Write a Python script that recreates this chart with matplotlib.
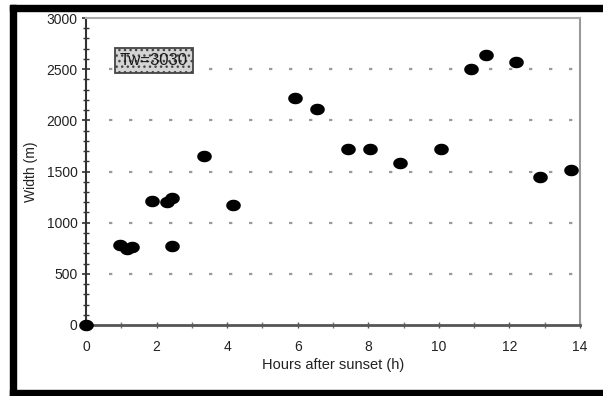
import matplotlib
matplotlib.use("Agg")
import matplotlib.pyplot as plt
from matplotlib.patches import Rectangle
from matplotlib.path import Path
from matplotlib.ticker import MultipleLocator
import numpy as np

hours = [0.0, 0.95, 1.15, 1.3, 1.87, 2.3, 2.45, 2.43, 3.34, 4.17, 5.92, 6.54,
         7.42, 8.05, 8.9, 10.06, 10.9, 11.33, 12.18, 12.86, 13.74]
width = [0, 785, 740, 765, 1210, 1205, 1245, 775, 1651, 1175, 2220, 2110,
         1715, 1715, 1585, 1715, 2500, 2640, 2570, 1450, 1510]
xticks = [0, 2, 4, 6, 8, 10, 12, 14]
yticks = [0, 500, 1000, 1500, 2000, 2500, 3000]
grid_levels = [500, 1000, 1500, 2000, 2500]
label_text = "Tw=3030"

plt.rcParams['font.family'] = ['Liberation Sans', 'DejaVu Sans']
plt.rcParams['hatch.color'] = '#8a8a8a'

fig = plt.figure(figsize=(6.03, 3.96), dpi=100)
W, H = 603, 396
ax = fig.add_axes([86 / W, 1 - 325 / H, (580 - 86) / W, (325 - 18) / H])

for g in grid_levels:
    ax.plot([0.65, 13.8], [g, g], color='#9a9a9a', lw=1.6,
            linestyle=(0, (1.5, 7.5)), zorder=1)

t = np.linspace(0, 2 * np.pi, 40)
ellipse = Path(np.column_stack([1.3 * np.cos(t), np.sin(t)]), closed=True)
ax.plot(hours, width, linestyle='none', marker=ellipse, color='black', ms=9.5,
        zorder=3, clip_on=False)

ax.set_xlim(0, 14)
ax.set_ylim(0, 3000)
ax.set_xticks(xticks)
ax.set_yticks(yticks)
ax.xaxis.set_minor_locator(MultipleLocator(1))
ax.yaxis.set_minor_locator(MultipleLocator(100))
ax.tick_params(axis='y', which='major', direction='inout', length=6, width=1.2,
               colors='#333333', labelsize=10, pad=3)
ax.tick_params(axis='y', which='minor', direction='inout', length=4, width=1, colors='#333333')
ax.tick_params(axis='x', which='major', direction='inout', length=5, width=1,
               colors='#555555', labelsize=10, pad=8)
ax.tick_params(axis='x', which='minor', direction='inout', length=4, width=1, colors='#777777')
for lab in ax.get_xticklabels() + ax.get_yticklabels():
    lab.set_color('#222222')

ax.spines['left'].set_color('#333333')
ax.spines['left'].set_linewidth(1.5)
ax.spines['bottom'].set_color('#555555')
ax.spines['bottom'].set_linewidth(2)
ax.spines['top'].set_color('#aaaaaa')
ax.spines['top'].set_linewidth(1.5)
ax.spines['right'].set_color('#999999')
ax.spines['right'].set_linewidth(1.5)

ax.set_xlabel('Hours after sunset (h)', fontsize=10.5, color='#222222', labelpad=3)
ax.set_ylabel('Width (m)', fontsize=10, color='#222222', labelpad=6)

ax.text(0.137, 0.86, label_text, transform=ax.transAxes, fontsize=12,
        color='#1a1a1a', ha='center', va='center',
        bbox=dict(boxstyle='square,pad=0.3', facecolor='#d4d4d4',
                  edgecolor='#444444', linewidth=1.3, hatch='...'))

# black frame bands
fig.patches.append(Rectangle((10 / W, 0), 6 / W, 1 - 5 / H, transform=fig.transFigure,
                             color='black', zorder=0))
fig.patches.append(Rectangle((10 / W, 1 - 11 / H), 1, 6 / H, transform=fig.transFigure,
                             color='black', zorder=0))
fig.patches.append(Rectangle((10 / W, 0), 1, 6 / H, transform=fig.transFigure,
                             color='black', zorder=0))

fig.savefig('out.png', dpi=100)
